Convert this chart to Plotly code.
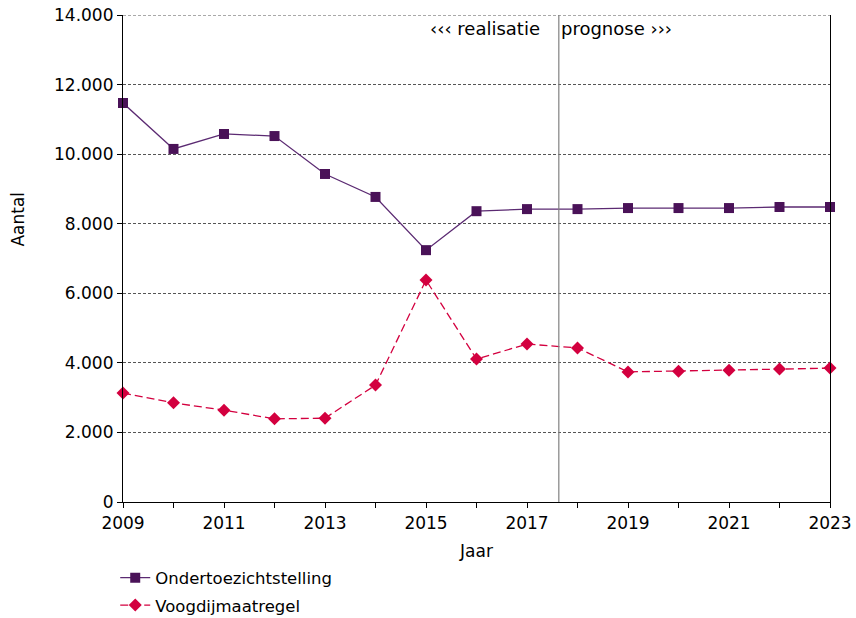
import plotly.graph_objects as go

years = list(range(2009, 2024))
ots = [11470, 10150, 10580, 10520, 9430, 8770, 7240, 8360, 8420, 8420, 8450, 8450, 8450, 8480, 8480]
voogdij = [3130, 2850, 2640, 2390, 2410, 3360, 6380, 4110, 4540, 4430, 3740, 3760, 3790, 3820, 3850]
series_names = ["Ondertoezichtstelling", "Voogdijmaatregel"]
tick_years = list(range(2009, 2024))
tick_labels = [str(y) if (y - 2009) % 2 == 0 else "" for y in tick_years]
y_ticks = [0, 2000, 4000, 6000, 8000, 10000, 12000, 14000]
split_year = 2017.63

FONT = "DejaVu Sans, Verdana, sans-serif"
PURPLE = "#4a1258"
PINK = "#d3003f"
GRID = "#555"

fig = go.Figure()
fig.add_trace(go.Scatter(
    x=years, y=ots, name=series_names[0], mode="lines+markers", legendgroup="a",
    line=dict(color="#5b2a72", width=1.3),
    marker=dict(symbol="square", size=10, color=PURPLE),
    cliponaxis=False,
))
fig.add_trace(go.Scatter(
    x=years, y=voogdij, name=series_names[1], mode="lines+markers", legendgroup="b",
    line=dict(color=PINK, width=1.3, dash="8px,4px"),
    marker=dict(symbol="diamond", size=10, color=PINK),
    cliponaxis=False,
))

# top gridline at the upper end of the value axis
fig.add_shape(type="line", xref="paper", yref="y", x0=0, x1=1, y0=y_ticks[-1], y1=y_ticks[-1],
              line=dict(color=GRID, width=1, dash="3px,2px"), layer="below")
fig.add_shape(type="line", xref="x", yref="paper", x0=split_year, x1=split_year, y0=0, y1=1,
              line=dict(color="#808080", width=1.2))
fig.add_annotation(x=split_year, y=1, xref="x", yref="paper", text="‹‹‹ realisatie",
                   showarrow=False, xanchor="right", yanchor="top", xshift=-17, yshift=-1,
                   font=dict(family=FONT, size=18, color="#000"))
fig.add_annotation(x=split_year, y=1, xref="x", yref="paper", text="prognose ›››",
                   showarrow=False, xanchor="left", yanchor="top", xshift=0, yshift=-1,
                   font=dict(family=FONT, size=18, color="#000"))
fig.add_annotation(x=0, y=0.58, xref="paper", yref="paper", text="Aantal", textangle=-90,
                   showarrow=False, xanchor="center", yanchor="middle", xshift=-105,
                   font=dict(family=FONT, size=17, color="#000"))

fig.update_layout(
    width=856, height=618,
    margin=dict(l=123, r=26, t=15, b=116, autoexpand=False),
    paper_bgcolor="white", plot_bgcolor="white",
    separators=",.",
    font=dict(family=FONT, size=16, color="#000"),
    showlegend=True,
    legend=dict(x=-0.011, y=-0.12, xanchor="left", yanchor="top", orientation="v",
                font=dict(family=FONT, size=16.5), tracegroupgap=3, itemwidth=30,
                bgcolor="rgba(0,0,0,0)"),
    xaxis=dict(range=[2009, 2023], tickvals=tick_years, ticktext=tick_labels,
               ticks="outside", ticklen=5, tickcolor="#000", showgrid=False,
               showline=True, linecolor="#000", linewidth=1.2, zeroline=False,
               automargin=False, ticklabeloverflow="allow",
               title=dict(text="Jaar", standoff=13, font=dict(size=17)),
               tickfont=dict(size=17)),
    yaxis=dict(range=[0, 14000], tickvals=y_ticks, tickformat=",d",
               ticks="outside", ticklen=5, tickcolor="#000", automargin=False,
               ticklabeloverflow="allow",
               showgrid=True, gridcolor=GRID, griddash="3px,2px", gridwidth=1,
               showline=True, linecolor="#000", linewidth=1.2, mirror=True, zeroline=False,
               tickfont=dict(size=17)),
)

fig.write_html("out.html", config={"displayModeBar": False},
               post_script="document.body.style.margin='0';document.body.style.overflow='hidden';")
